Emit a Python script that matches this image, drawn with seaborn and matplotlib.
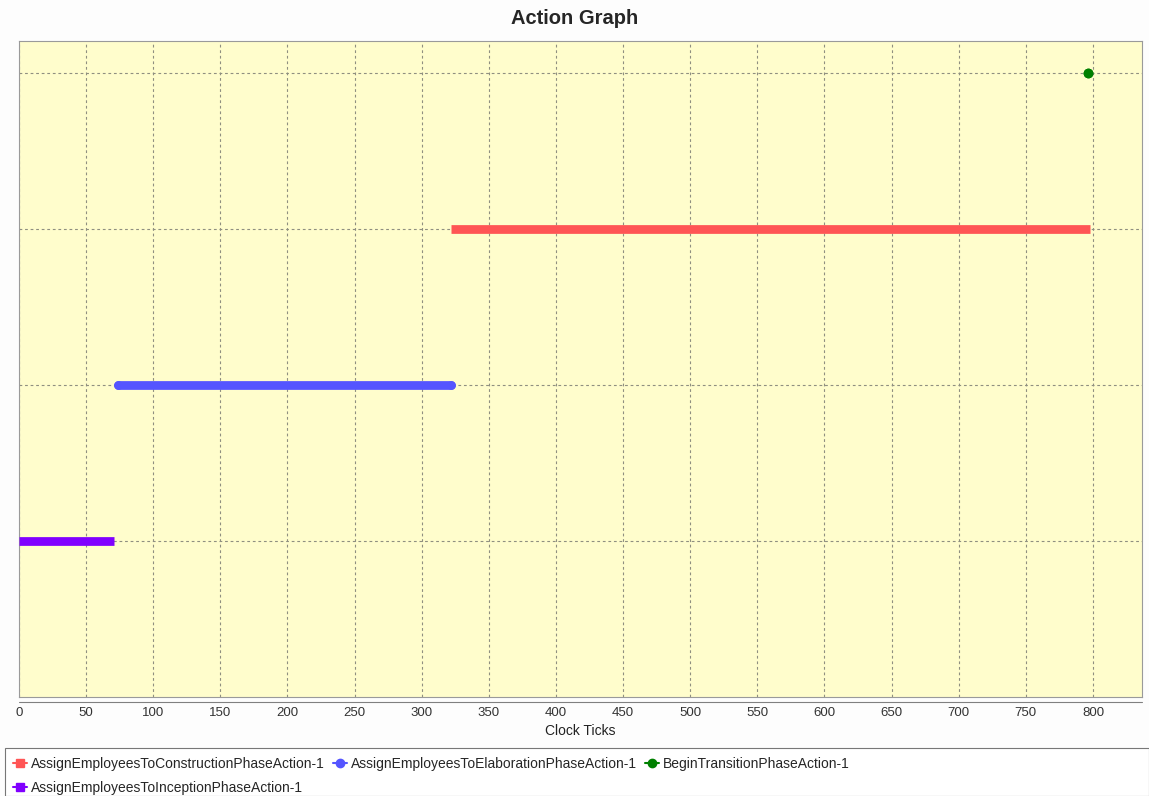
import matplotlib
matplotlib.use("Agg")
import matplotlib.pyplot as plt
from matplotlib.lines import Line2D
from matplotlib.patches import Rectangle
import seaborn as sns
import pandas as pd

# ---- data ----
actions = ["AssignEmployeesToConstructionPhaseAction-1",
           "AssignEmployeesToElaborationPhaseAction-1",
           "BeginTransitionPhaseAction-1",
           "AssignEmployeesToInceptionPhaseAction-1"]
levels = [2, 1, 3, 0]
start_ticks = [322, 74, 796, 0]
end_ticks = [798, 322, 796, 71]
colors = ["#FF5555", "#5555FF", "#008000", "#8000FF"]
marker_shapes = ["s", "o", "o", "s"]
x_ticks = list(range(0, 801, 50))

rows = []
for a, lv, s, e in zip(actions, levels, start_ticks, end_ticks):
    rows.append({"action": a, "tick": s, "level": lv})
    rows.append({"action": a, "tick": e, "level": lv})
df = pd.DataFrame(rows)

sns.set_style("white")
plt.rcParams["font.family"] = ["Liberation Sans", "DejaVu Sans"]

fig = plt.figure(figsize=(11.49, 7.96), dpi=100, facecolor="#FDFDFD")
ax = fig.add_axes([19 / 1149, 1 - 697 / 796, (1142 - 19) / 1149, (697 - 41) / 796])
ax.set_facecolor("#FFFDCC")

pal = dict(zip(actions, colors))
mk = dict(zip(actions, marker_shapes))
sns.lineplot(data=df, x="tick", y="level", hue="action", style="action",
             palette=pal, markers=mk, dashes=False, linewidth=6.3,
             markersize=6.3, markeredgewidth=0, legend=False, ax=ax,
             estimator=None, sort=False)
for ln in ax.get_lines():
    ln.set_zorder(3)
    if ln.get_marker() == "o":
        ln.set_solid_capstyle("round")
        if len(ln.get_xdata()) and ln.get_xdata()[0] == ln.get_xdata()[-1]:
            ln.set_markersize(7)
    else:
        # square markers are hidden inside the thick bar
        ln.set_markersize(0)
        ln.set_solid_capstyle("butt")

ax.set_xlim(0, 836.5)
ax.set_ylim(-1.0, 3.205)
ax.set_xticks(x_ticks)
ax.set_yticks([0, 1, 2, 3])
ax.set_yticklabels([])
ax.tick_params(axis="y", length=0)
ax.tick_params(axis="x", direction="out", length=4, width=0.8, color="#808080",
               labelsize=9.5, labelcolor="#333333", pad=3)
ax.grid(True, color="#8f8f80", linestyle=(0, (2.5, 2.5)), linewidth=0.8)
ax.set_axisbelow(True)
for side in ["top", "left", "right", "bottom"]:
    ax.spines[side].set_color("#9a9a9a")
    ax.spines[side].set_linewidth(0.8)

# offset axis line below plot, like the reference
ax.plot([0, 1], [-0.008, -0.008], transform=ax.transAxes, color="#808080",
        lw=0.8, clip_on=False)
ax.set_xlabel("Clock Ticks", fontsize=10, color="#222222", labelpad=4)
ax.set_ylabel("")

fig.suptitle("Action Graph", fontsize=14.5, fontweight="bold", y=1 - 19 / 796,
             va="center")

# legend box
fig.patches.append(Rectangle((5 / 1149, 0), 1144 / 1149, 48 / 796,
                             transform=fig.transFigure, facecolor="white",
                             edgecolor="#777777", linewidth=0.8))
handles = [Line2D([0], [0], color=c, marker=m, markersize=6, lw=1.5)
           for c, m in zip(colors, marker_shapes)]
order = [0, 3, 1, 2]
fig.legend([handles[i] for i in order], [actions[i] for i in order],
           ncol=3, loc="upper left", bbox_to_anchor=(3 / 1149, 1 - 747 / 796),
           frameon=False, fontsize=10, handlelength=1.0, handletextpad=0.3,
           columnspacing=0.6, labelspacing=0.72, borderpad=0.2)

fig.savefig("out.png", dpi=100, facecolor=fig.get_facecolor())
